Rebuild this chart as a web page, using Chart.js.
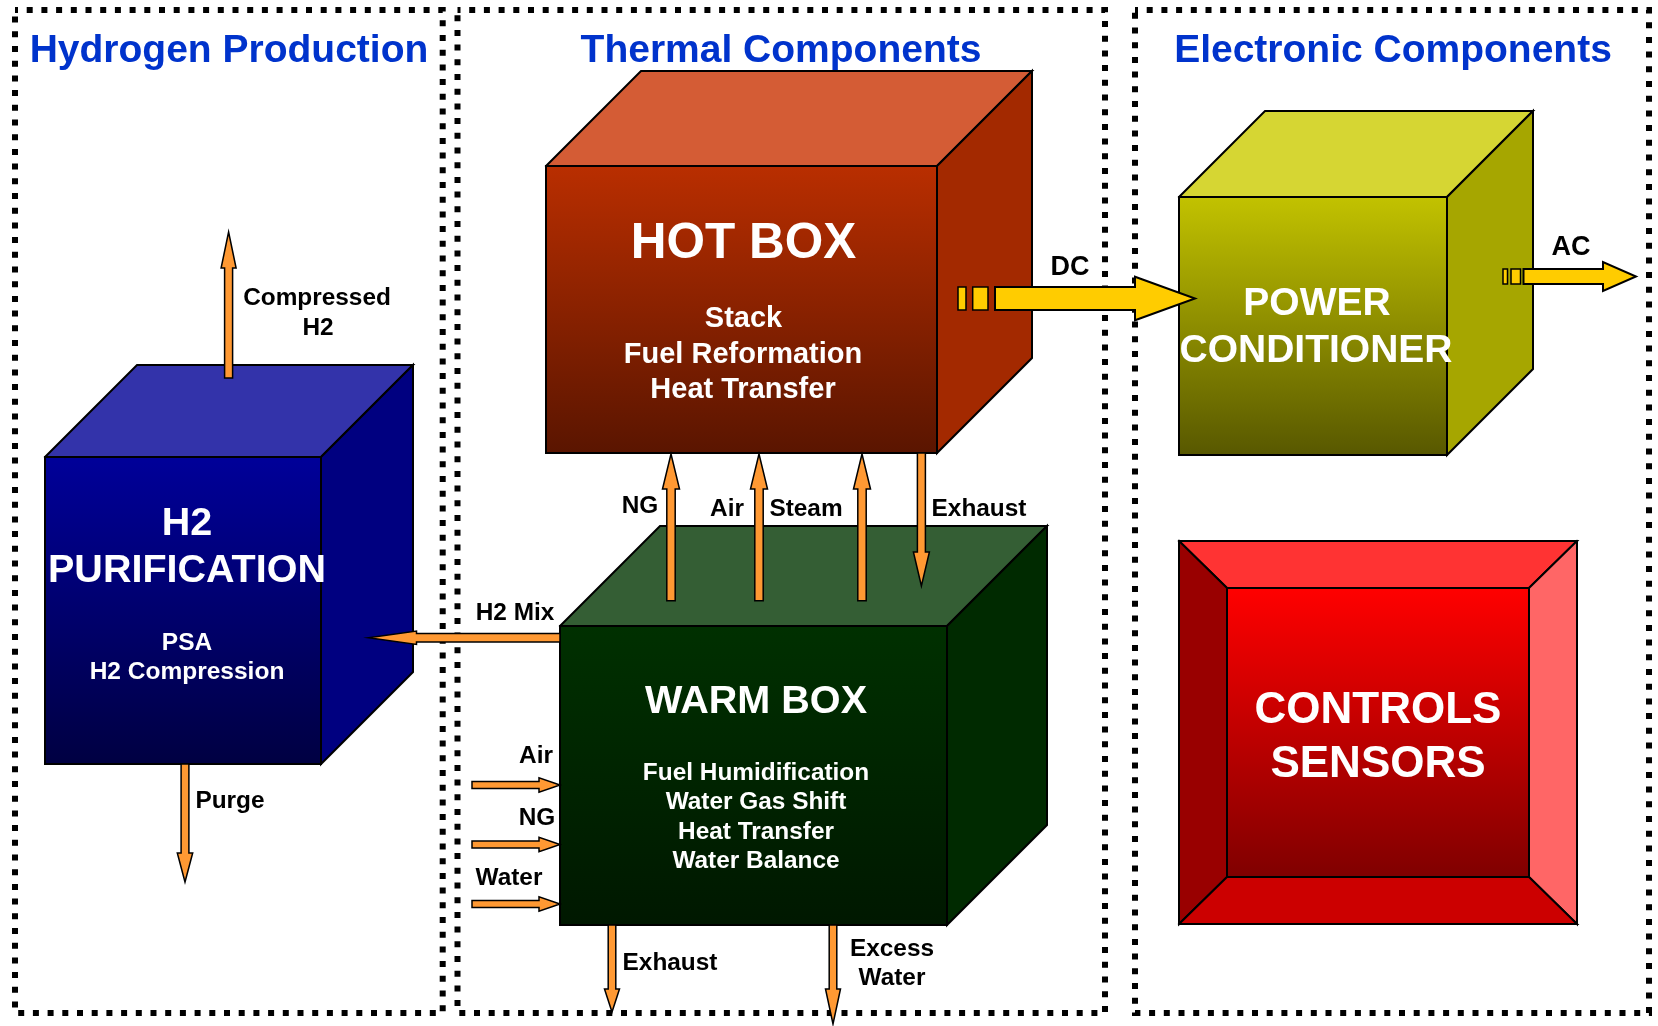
<!DOCTYPE html>
<html lang="en">
<head>
<meta charset="UTF-8">
<title>Fuel Processor Subsystems</title>
<script src="https://cdn.jsdelivr.net/npm/chart.js"></script>
<style>
  html, body { margin: 0; padding: 0; background: #fff; overflow: hidden; }
  canvas { display: block; }
</style>
</head>
<body>
<canvas id="diagram" width="1658" height="1026"></canvas>
<script>
// diagram units = reference pixels, y grows downwards

// dotted panels
const panelTitles = ['Hydrogen Production', 'Thermal Components', 'Electronic Components'];
const panelLeft   = [15, 457.5, 1135];
const panelRight  = [442.7, 1105, 1649];
const panelTop    = [10, 10, 10];
const panelBottom = [1013, 1013, 1013];
const titleX      = [229, 781, 1393];
const titleY      = [62, 62, 62];

// cubes: front face + depth of the top / side faces
const cubeNames  = ['h2', 'hot', 'warm', 'power'];
const cubeLeft   = [45, 546, 560, 1179];
const cubeTop    = [457, 166, 626, 197];
const cubeRight  = [321, 937, 947, 1447];
const cubeBottom = [764, 453, 925, 455];
const cubeDepth  = [92, 95, 100, 86];

// bevelled controls box [left, top, right, bottom]
const controlsOuter = [1179, 541, 1577, 924];
const controlsInner = [1227, 588, 1529, 877];

// arrows, tail -> tip
const arrowNames   = ['Compressed H2', 'Purge', 'H2 Mix', 'NG up', 'Air up', 'Steam up', 'Exhaust hot',
                      'Air in', 'NG in', 'Water in', 'Exhaust warm', 'Excess water', 'DC', 'AC'];
const arrowTailX   = [228.6, 185, 560, 671, 759, 862, 921.4, 472, 472, 472, 612, 833, 995, 1523.5];
const arrowTailY   = [378, 764, 637.7, 600.7, 600.7, 600.7, 453, 785, 844.5, 904, 925, 925, 298.5, 276.5];
const arrowTipX    = [228.6, 185, 368.5, 671, 759, 862, 921.4, 560, 560, 560, 612, 833, 1195, 1636];
const arrowTipY    = [232, 882, 637.7, 454, 454, 454, 586, 785, 844.5, 904, 1012, 1024, 298.5, 276.5];
const arrowShaft   = [4, 3.9, 4.2, 4.2, 4.2, 4.2, 4, 3.6, 3.6, 3.6, 3.8, 3.8, 11.5, 7.5];
const arrowHead    = [7.5, 7.7, 6.7, 8.5, 8.5, 8.5, 8, 7.2, 7.2, 7.2, 7.5, 7.5, 21.7, 14.5];
const arrowHeadLen = [36, 29, 48, 35, 35, 35, 34, 21, 21, 21, 23, 35, 60, 33];
const arrowKind    = ['gas', 'gas', 'gas', 'gas', 'gas', 'gas', 'gas', 'gas', 'gas', 'gas', 'gas', 'gas', 'power', 'power'];

// little plug blocks in front of DC / AC arrows
const plugLeft   = [958, 972.7, 1503, 1511];
const plugRight  = [966, 988, 1507.5, 1520.5];
const plugTop    = [287, 287, 269, 269];
const plugBottom = [310, 310, 284, 284];

// text inside the boxes
const boxLabelText = ['H2', 'PURIFICATION', 'PSA', 'H2 Compression',
                      'HOT BOX', 'Stack', 'Fuel Reformation', 'Heat Transfer',
                      'WARM BOX', 'Fuel Humidification', 'Water Gas Shift', 'Heat Transfer', 'Water Balance',
                      'POWER', 'CONDITIONER', 'CONTROLS', 'SENSORS'];
const boxLabelX = [187, 187, 187, 187, 743.5, 743.5, 743, 743, 756, 756, 756, 756, 756, 1317, 1316, 1378, 1378];
const boxLabelY = [535, 582, 650, 679, 258, 327, 363, 398, 713, 780, 809, 839, 868, 315, 362, 723, 777];
const boxLabelKind = ['h2Name', 'h2Name', 'h2Sub', 'h2Sub', 'hotName', 'hotSub', 'hotSub', 'hotSub',
                      'warmName', 'warmSub', 'warmSub', 'warmSub', 'warmSub', 'powerName', 'powerName', 'ctrlName', 'ctrlName'];

// stream labels
const flowLabelText = ['Compressed', 'H2', 'Purge', 'H2 Mix', 'NG', 'Air', 'Steam', 'Exhaust',
                       'Air', 'NG', 'Water', 'Exhaust', 'Excess', 'Water', 'DC', 'AC'];
const flowLabelX = [317, 318, 230, 515, 640, 727, 806, 979, 536, 537, 509, 670, 892, 892, 1070, 1571];
const flowLabelY = [305, 335, 808, 620, 513, 516, 516, 516, 763, 825, 885, 970, 956, 985, 275, 255];
const flowLabelKind = ['flow', 'flow', 'flow', 'flow', 'flow', 'flow', 'flow', 'flow',
                       'flow', 'flow', 'flow', 'flow', 'flow', 'flow', 'current', 'current'];

// ---- styles ----
const FONT = '"Liberation Sans", Arial, sans-serif';
const labelStyles = {
  title:     { font: 'bold 39px ' + FONT, color: '#0033cc' },
  h2Name:    { font: 'bold 39.5px ' + FONT, color: '#ffffff' },
  h2Sub:     { font: 'bold 24.5px ' + FONT, color: '#ffffff' },
  hotName:   { font: 'bold 49.5px ' + FONT, color: '#ffffff' },
  hotSub:    { font: 'bold 29px ' + FONT, color: '#ffffff' },
  warmName:  { font: 'bold 39.6px ' + FONT, color: '#ffffff' },
  warmSub:   { font: 'bold 24.4px ' + FONT, color: '#ffffff' },
  powerName: { font: 'bold 39px ' + FONT, color: '#ffffff' },
  ctrlName:  { font: 'bold 44px ' + FONT, color: '#ffffff' },
  flow:      { font: 'bold 24.4px ' + FONT, color: '#000000' },
  current:   { font: 'bold 27px ' + FONT, color: '#000000' }
};
const cubeColors = {
  h2:    { top: '#3333aa', side: '#000080', front: ['#000099', '#000042'] },
  hot:   { top: '#d45c35', side: '#a32900', front: ['#b92e00', '#5a1500'] },
  warm:  { top: '#345e34', side: '#002a00', front: ['#003000', '#001800'] },
  power: { top: '#d6d633', side: '#a6a600', front: ['#c2c200', '#585800'] }
};
const arrowColors = { gas: '#ff9933', power: '#ffcc00' };

function vGradient(top, bottom, c0, c1) {
  return chart => {
    const y = chart.scales.y;
    const g = chart.ctx.createLinearGradient(0, y.getPixelForValue(top), 0, y.getPixelForValue(bottom));
    g.addColorStop(0, c0);
    g.addColorStop(1, c1);
    return g;
  };
}

function poly(points, fill, extra) {
  return Object.assign({
    data: points.map(p => ({ x: p[0], y: p[1] })),
    faceFill: fill,
    borderColor: '#000000',
    borderWidth: 2,
    borderCapStyle: 'square',
    borderJoinStyle: 'miter',
    pointRadius: 0,
    pointHoverRadius: 0,
    fill: false,
    tension: 0
  }, extra || {});
}

function rectPoints(x0, y0, x1, y1) {
  return [[x0, y0], [x1, y0], [x1, y1], [x0, y1], [x0, y0]];
}

function arrowPoints(i) {
  const x0 = arrowTailX[i], y0 = arrowTailY[i], x1 = arrowTipX[i], y1 = arrowTipY[i];
  const len = Math.hypot(x1 - x0, y1 - y0);
  const ux = (x1 - x0) / len, uy = (y1 - y0) / len;
  const nx = -uy, ny = ux;
  const s = arrowShaft[i], h = arrowHead[i];
  const bx = x1 - ux * arrowHeadLen[i], by = y1 - uy * arrowHeadLen[i];
  return [
    [x0 + nx * s, y0 + ny * s], [bx + nx * s, by + ny * s], [bx + nx * h, by + ny * h], [x1, y1],
    [bx - nx * h, by - ny * h], [bx - nx * s, by - ny * s], [x0 - nx * s, y0 - ny * s], [x0 + nx * s, y0 + ny * s]
  ];
}

// build datasets bottom -> top
const layers = [];

panelTitles.forEach((t, i) => {
  layers.push(poly(rectPoints(panelLeft[i], panelTop[i], panelRight[i], panelBottom[i]), null, {
    label: t, borderWidth: 6, borderDash: [6, 8.7], borderDashOffset: 3, borderCapStyle: 'butt'
  }));
});

cubeNames.forEach((name, i) => {
  const x0 = cubeLeft[i], y0 = cubeTop[i], x1 = cubeRight[i], y1 = cubeBottom[i], d = cubeDepth[i];
  const c = cubeColors[name];
  layers.push(poly([[x0, y0], [x0 + d, y0 - d], [x1 + d, y0 - d], [x1, y0], [x0, y0]], c.top));
  layers.push(poly([[x1, y0], [x1 + d, y0 - d], [x1 + d, y1 - d], [x1, y1], [x1, y0]], c.side));
  layers.push(poly(rectPoints(x0, y0, x1, y1), vGradient(y0, y1, c.front[0], c.front[1])));
});

{
  const [ox0, oy0, ox1, oy1] = controlsOuter;
  const [ix0, iy0, ix1, iy1] = controlsInner;
  layers.push(poly([[ox0, oy0], [ox1, oy0], [ix1, iy0], [ix0, iy0], [ox0, oy0]], '#ff3333'));
  layers.push(poly([[ox0, oy0], [ix0, iy0], [ix0, iy1], [ox0, oy1], [ox0, oy0]], '#990000'));
  layers.push(poly([[ox1, oy0], [ox1, oy1], [ix1, iy1], [ix1, iy0], [ox1, oy0]], '#ff6666'));
  layers.push(poly([[ox0, oy1], [ix0, iy1], [ix1, iy1], [ox1, oy1], [ox0, oy1]], '#cc0000'));
  layers.push(poly(rectPoints(ix0, iy0, ix1, iy1), vGradient(iy0, iy1, '#ff0000', '#800000')));
}

arrowNames.forEach((n, i) => {
  layers.push(poly(arrowPoints(i), arrowColors[arrowKind[i]], {
    label: n, borderWidth: arrowKind[i] === 'power' ? 2 : 1.5
  }));
});

plugLeft.forEach((x0, i) => {
  layers.push(poly(rectPoints(x0, plugTop[i], plugRight[i], plugBottom[i]), arrowColors.power, { borderWidth: 1.5 }));
});

// first layer drawn first (Chart.js paints the highest order first)
layers.forEach((ds, i) => { ds.order = layers.length - i; });

const faceFillPlugin = {
  id: 'faceFill',
  beforeDatasetDraw(chart, args) {
    const ds = chart.data.datasets[args.index];
    if (!ds.faceFill) return;
    const pts = args.meta.data;
    const ctx = chart.ctx;
    ctx.save();
    ctx.beginPath();
    pts.forEach((p, k) => k ? ctx.lineTo(p.x, p.y) : ctx.moveTo(p.x, p.y));
    ctx.closePath();
    ctx.fillStyle = typeof ds.faceFill === 'function' ? ds.faceFill(chart) : ds.faceFill;
    ctx.fill();
    ctx.restore();
  }
};

const labelPlugin = {
  id: 'diagramLabels',
  afterDatasetsDraw(chart) {
    const { ctx, scales: { x, y } } = chart;
    const put = (text, vx, vy, kind) => {
      const st = labelStyles[kind];
      ctx.font = st.font;
      ctx.fillStyle = st.color;
      ctx.fillText(text, x.getPixelForValue(vx), y.getPixelForValue(vy));
    };
    ctx.save();
    ctx.textAlign = 'center';
    ctx.textBaseline = 'alphabetic';
    panelTitles.forEach((t, i) => put(t, titleX[i], titleY[i], 'title'));
    boxLabelText.forEach((t, i) => put(t, boxLabelX[i], boxLabelY[i], boxLabelKind[i]));
    flowLabelText.forEach((t, i) => put(t, flowLabelX[i], flowLabelY[i], flowLabelKind[i]));
    ctx.restore();
  }
};

new Chart(document.getElementById('diagram').getContext('2d'), {
  type: 'line',
  data: { datasets: layers },
  options: {
    responsive: false,
    animation: false,
    events: [],
    layout: { padding: 0 },
    plugins: { legend: { display: false }, tooltip: { enabled: false } },
    scales: {
      x: { type: 'linear', min: 0, max: 1658, display: false },
      y: { type: 'linear', min: 0, max: 1026, reverse: true, display: false }
    }
  },
  plugins: [faceFillPlugin, labelPlugin]
});
</script>
</body>
</html>
